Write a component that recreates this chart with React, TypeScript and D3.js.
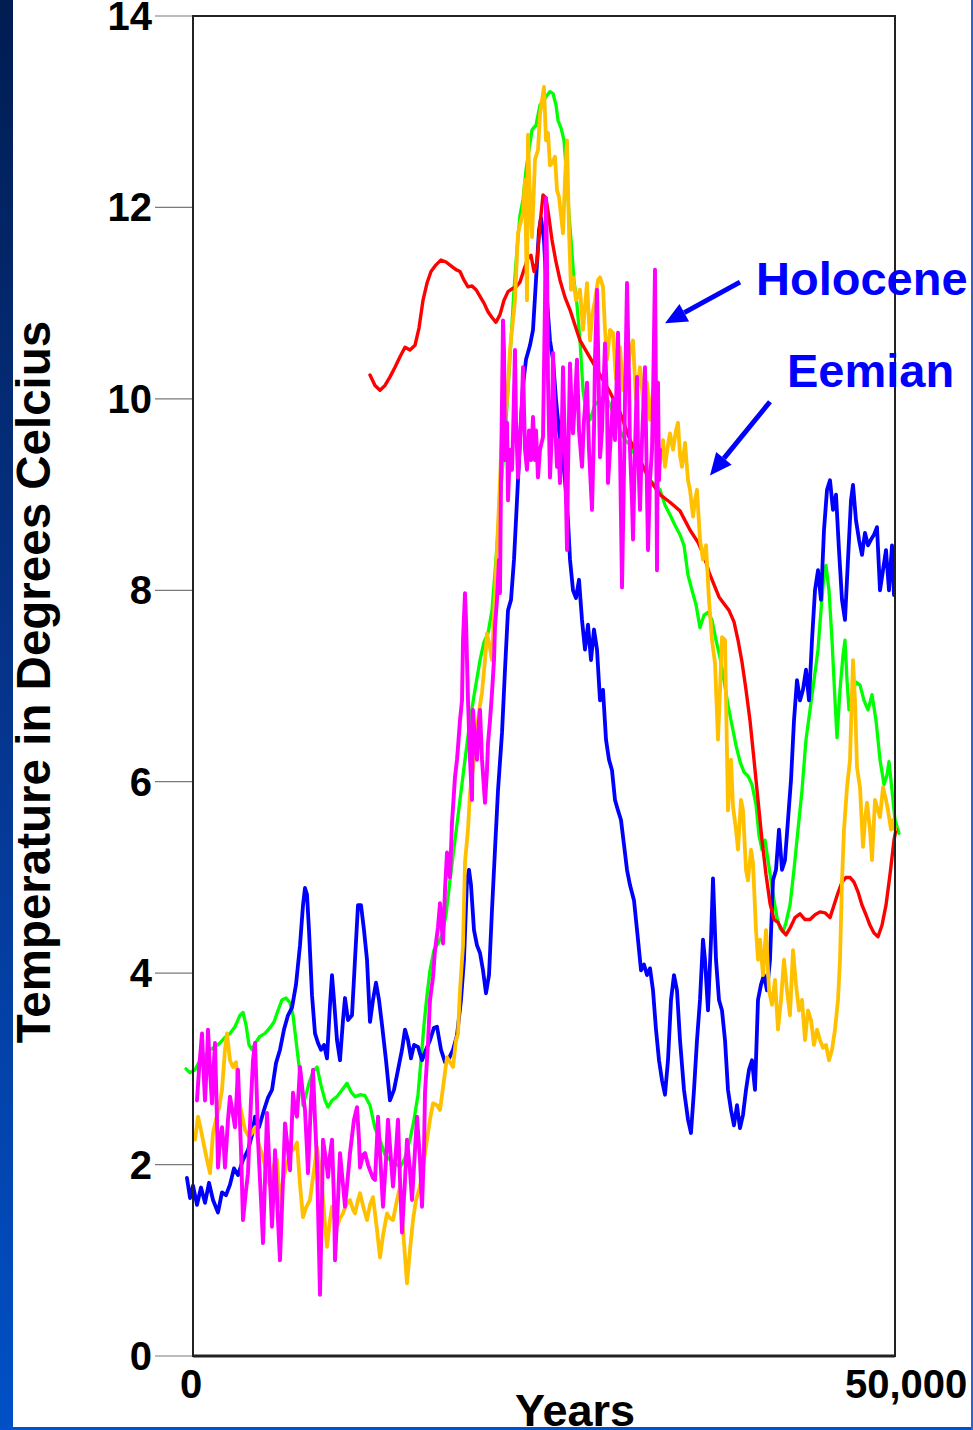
import React from "react";
import * as d3 from "d3";

type Pt = [number, number];

// Temperature records, [years, °C]
const BLUE: Pt[] = [[-430,1.86],[-210,1.65],[0,1.78],[285,1.58],[570,1.76],[855,1.60],[1140,1.81],[1425,1.63],[1781,1.50],[2065,1.71],[2350,1.68],[2635,1.79],[2920,1.96],[3205,1.89],[3561,2.05],[3917,2.15],[4202,2.31],[4416,2.50],[4701,2.39],[5057,2.57],[5342,2.70],[5627,2.78],[5912,3.06],[6197,3.20],[6481,3.41],[6766,3.56],[7051,3.64],[7336,3.88],[7621,4.29],[7835,4.71],[7977,4.89],[8120,4.82],[8262,4.45],[8476,3.77],[8689,3.37],[8903,3.27],[9117,3.20],[9330,3.25],[9544,3.11],[9758,3.67],[9900,3.98],[10043,3.72],[10256,3.30],[10470,3.09],[10684,3.51],[10826,3.74],[11040,3.51],[11325,3.56],[11538,4.14],[11752,4.71],[11966,4.71],[12179,4.45],[12393,4.14],[12607,3.49],[12821,3.72],[13034,3.90],[13248,3.72],[13462,3.46],[13746,3.09],[14031,2.67],[14316,2.78],[14601,2.99],[14886,3.20],[15100,3.41],[15313,3.30],[15527,3.11],[15741,3.25],[16026,3.23],[16311,3.09],[16595,3.20],[16880,3.30],[17165,3.43],[17379,3.44],[17664,3.20],[17949,3.07],[18234,3.11],[18519,3.20],[18803,3.35],[19088,3.72],[19302,4.14],[19516,4.97],[19658,5.08],[19801,4.92],[20014,4.45],[20228,4.29],[20442,4.21],[20655,4.03],[20869,3.79],[21083,3.98],[21296,4.66],[21510,5.29],[21724,5.91],[22009,6.51],[22222,7.17],[22436,7.79],[22650,7.90],[22863,8.32],[23077,8.94],[23291,9.57],[23504,10.14],[23718,10.41],[24003,10.56],[24217,10.72],[24430,11.24],[24644,11.76],[24786,11.89],[25000,11.66],[25214,11.03],[25427,10.61],[25641,10.41],[25855,9.99],[26068,9.67],[26282,9.47],[26496,9.15],[26709,8.73],[26852,8.32],[27066,8.00],[27279,7.92],[27493,8.11],[27707,7.69],[27920,7.38],[28134,7.64],[28348,7.27],[28561,7.59],[28775,7.38],[28989,6.85],[29202,6.96],[29416,6.44],[29630,6.23],[29843,6.12],[30057,5.81],[30271,5.70],[30484,5.60],[30698,5.34],[30912,5.08],[31125,4.92],[31410,4.76],[31695,4.35],[31909,4.03],[32122,4.09],[32336,3.98],[32550,4.05],[32764,3.82],[32977,3.41],[33191,3.09],[33405,2.88],[33618,2.73],[33832,3.09],[34046,3.72],[34259,3.98],[34473,3.82],[34687,3.30],[34971,2.78],[35256,2.47],[35470,2.33],[35684,2.78],[35897,3.30],[36111,3.72],[36325,4.35],[36467,4.14],[36681,3.61],[36895,4.35],[37037,4.99],[37251,4.14],[37464,3.72],[37678,3.61],[37892,3.30],[38105,2.78],[38319,2.57],[38533,2.41],[38746,2.62],[38960,2.38],[39174,2.52],[39387,2.78],[39601,2.99],[39815,3.09],[40028,2.78],[40242,3.72],[40456,3.88],[40669,3.98],[40883,3.82],[41097,4.14],[41311,4.97],[41524,5.08],[41738,5.50],[41952,5.08],[42165,5.18],[42379,5.60],[42593,6.02],[42806,6.64],[43020,7.06],[43234,6.85],[43447,6.96],[43661,7.17],[43875,6.85],[44088,7.48],[44302,8.00],[44516,8.21],[44729,7.90],[44943,8.63],[45157,9.05],[45370,9.15],[45584,8.84],[45798,9.00],[46011,8.42],[46225,7.90],[46439,7.69],[46652,8.32],[46866,8.94],[47009,9.10],[47222,8.73],[47436,8.53],[47650,8.37],[47863,8.60],[48077,8.47],[48291,8.53],[48504,8.58],[48718,8.66],[48932,8.00],[49145,8.21],[49359,8.42],[49573,8.00],[49786,8.47],[49929,7.95]];

const GREEN: Pt[] = [[-500,3.00],[-214,2.96],[142,2.99],[499,3.09],[855,3.14],[1211,3.20],[1567,3.23],[1923,3.27],[2279,3.33],[2635,3.37],[2991,3.44],[3348,3.56],[3561,3.59],[3775,3.46],[3989,3.25],[4202,3.20],[4487,3.28],[4772,3.34],[5128,3.37],[5484,3.43],[5769,3.49],[6054,3.61],[6339,3.72],[6624,3.74],[6909,3.69],[7123,3.56],[7336,3.30],[7621,2.94],[7835,2.62],[8048,2.73],[8262,2.85],[8547,2.97],[8832,3.02],[9117,2.83],[9402,2.67],[9615,2.60],[9900,2.67],[10256,2.71],[10613,2.78],[10969,2.85],[11254,2.76],[11538,2.71],[11895,2.73],[12251,2.72],[12607,2.62],[12963,2.38],[13319,2.26],[13675,2.10],[14031,2.05],[14387,2.02],[14744,1.97],[15100,2.07],[15456,2.26],[15741,2.47],[16026,2.73],[16239,3.09],[16453,3.46],[16667,3.77],[16880,4.03],[17165,4.24],[17450,4.31],[17735,4.40],[18020,4.61],[18305,4.97],[18661,5.39],[19017,5.81],[19373,6.23],[19729,6.64],[20085,6.96],[20442,7.27],[20726,7.46],[21011,7.55],[21296,7.79],[21581,8.32],[21866,8.94],[22151,9.47],[22436,10.09],[22650,10.61],[22863,11.14],[23077,11.56],[23291,11.92],[23504,12.08],[23718,12.39],[23932,12.60],[24145,12.81],[24430,12.86],[24715,13.07],[25000,13.12],[25214,13.17],[25427,13.21],[25641,13.19],[25855,13.07],[25997,12.91],[26211,12.83],[26424,12.70],[26638,12.29],[26781,11.92],[26923,11.66],[27137,11.24],[27350,10.98],[27564,10.61],[27778,10.09],[27991,9.88],[28276,9.78],[28632,9.94],[28989,9.99],[29345,10.04],[29701,9.94],[30057,9.78],[30413,9.67],[30769,9.57],[31125,9.52],[31481,9.41],[31838,9.31],[32194,9.24],[32550,9.15],[32906,9.10],[33262,9.05],[33618,8.89],[33974,8.79],[34330,8.68],[34687,8.58],[34971,8.47],[35256,8.16],[35541,8.00],[35826,7.85],[36111,7.61],[36396,7.74],[36681,7.77],[36966,7.69],[37251,7.48],[37536,7.30],[37820,7.06],[38105,6.80],[38390,6.59],[38675,6.38],[38960,6.21],[39245,6.10],[39530,6.06],[39815,5.97],[40100,5.76],[40313,5.44],[40527,5.29],[40741,5.39],[40954,5.18],[41168,4.97],[41382,4.76],[41595,4.58],[41809,4.47],[42023,4.43],[42236,4.53],[42521,4.71],[42806,5.08],[43091,5.50],[43376,5.91],[43661,6.44],[43946,6.75],[44231,7.06],[44516,7.38],[44729,7.79],[44943,8.16],[45085,8.26],[45299,8.00],[45513,7.48],[45726,6.85],[45869,6.46],[46083,6.96],[46296,7.32],[46439,7.48],[46581,7.06],[46724,6.75],[46937,6.91],[47222,7.04],[47507,7.01],[47792,6.85],[48077,6.75],[48362,6.91],[48647,6.64],[48932,6.23],[49216,5.97],[49430,6.07],[49573,6.21],[49786,5.91],[50000,5.60],[50285,5.46]];

const RED: Pt[] = [[12607,10.25],[12963,10.14],[13319,10.09],[13675,10.14],[14031,10.23],[14387,10.33],[14744,10.44],[15100,10.54],[15456,10.51],[15812,10.56],[16097,10.74],[16382,11.03],[16667,11.21],[16952,11.33],[17308,11.40],[17664,11.45],[18020,11.43],[18376,11.39],[18732,11.35],[19017,11.33],[19302,11.24],[19587,11.17],[19872,11.18],[20157,11.14],[20442,11.07],[20726,11.00],[21011,10.91],[21296,10.85],[21581,10.80],[21866,10.88],[22151,11.03],[22436,11.12],[22721,11.15],[23006,11.17],[23291,11.22],[23575,11.35],[23860,11.47],[24074,11.50],[24288,11.33],[24501,11.43],[24715,11.82],[24929,12.13],[25142,12.10],[25356,11.89],[25570,11.66],[25855,11.43],[26140,11.24],[26496,11.06],[26852,10.93],[27208,10.77],[27564,10.61],[28276,10.43],[28989,10.25],[29701,10.07],[30413,9.86],[31125,9.57],[31838,9.36],[32550,9.15],[33262,9.00],[33974,8.92],[34687,8.83],[35399,8.63],[35969,8.50],[36396,8.36],[36752,8.19],[37108,8.06],[37464,7.93],[37820,7.86],[38177,7.79],[38533,7.67],[38818,7.48],[39102,7.25],[39387,6.96],[39672,6.64],[39957,6.23],[40242,5.81],[40527,5.39],[40812,5.03],[41097,4.73],[41382,4.56],[41666,4.53],[41951,4.45],[42236,4.40],[42521,4.47],[42877,4.58],[43234,4.62],[43590,4.56],[43946,4.56],[44302,4.61],[44658,4.64],[45014,4.63],[45370,4.58],[45655,4.71],[45940,4.84],[46225,4.95],[46510,5.00],[46795,5.00],[47080,4.95],[47365,4.85],[47650,4.71],[47934,4.61],[48219,4.50],[48504,4.42],[48789,4.38],[49074,4.50],[49359,4.71],[49644,5.03],[49929,5.39],[50071,5.50]];

const YELLOW: Pt[] = [[142,2.26],[356,2.50],[570,2.36],[783,2.20],[997,2.05],[1211,1.91],[1425,2.33],[1638,2.47],[1852,2.59],[2065,2.78],[2279,3.20],[2422,3.37],[2635,3.09],[2849,3.02],[3063,3.07],[3276,2.67],[3490,2.52],[3704,2.36],[3989,2.29],[4202,2.33],[4416,2.39],[4701,2.20],[4986,2.08],[5271,1.89],[5484,1.77],[5769,2.00],[5983,2.05],[6197,1.56],[6410,1.84],[6695,2.00],[6909,2.12],[7194,2.17],[7407,2.23],[7621,1.79],[7835,1.45],[8048,1.55],[8333,1.63],[8618,1.94],[8832,2.18],[9046,1.94],[9188,1.77],[9402,1.37],[9544,1.14],[9758,1.42],[9900,1.56],[10114,1.42],[10256,1.35],[10470,1.44],[10684,1.49],[10897,1.58],[11182,1.63],[11396,1.53],[11538,1.49],[11752,1.63],[11895,1.70],[12179,1.53],[12393,1.42],[12607,1.58],[12821,1.66],[13105,1.32],[13319,1.03],[13533,1.26],[13818,1.49],[14031,1.44],[14245,1.42],[14530,1.63],[14744,1.77],[14957,1.32],[15242,0.76],[15456,1.11],[15670,1.42],[15883,1.63],[16168,1.77],[16453,2.05],[16667,2.26],[16880,2.47],[17094,2.64],[17379,2.62],[17593,2.57],[17877,2.88],[18091,3.12],[18305,3.07],[18519,3.02],[18732,3.30],[18875,3.37],[19017,3.82],[19231,4.29],[19373,5.16],[19587,5.50],[19729,5.88],[20014,6.23],[20228,6.57],[20442,6.80],[20584,6.93],[20798,7.27],[20940,7.55],[21154,7.40],[21296,7.27],[21510,7.97],[21652,8.42],[21866,9.15],[22009,9.64],[22222,9.83],[22365,9.99],[22578,10.51],[22792,10.82],[22934,11.03],[23148,11.73],[23291,11.82],[23504,11.94],[23647,12.29],[23789,11.03],[23860,12.76],[24003,12.08],[24145,11.69],[24359,12.50],[24573,12.60],[24715,12.97],[24858,13.12],[25000,13.26],[25142,12.70],[25285,12.78],[25427,12.44],[25570,12.46],[25783,12.53],[25926,12.18],[26068,12.11],[26211,11.92],[26353,11.73],[26496,12.29],[26638,12.70],[26781,11.76],[26923,11.14],[27066,11.27],[27279,11.03],[27564,11.14],[27778,10.72],[28063,11.21],[28276,10.61],[28419,10.86],[28632,11.03],[28846,11.24],[28989,11.27],[29202,11.17],[29345,10.72],[29487,10.41],[29701,10.72],[29915,10.69],[30128,10.20],[30413,10.54],[30627,10.09],[30912,10.23],[31125,10.51],[31339,10.61],[31553,9.99],[31838,10.33],[32122,9.88],[32336,10.17],[32550,9.78],[32764,10.09],[32977,9.57],[33262,9.33],[33476,9.57],[33618,9.29],[33832,9.52],[33974,9.64],[34188,9.47],[34402,9.67],[34544,9.75],[34687,9.41],[34829,9.29],[35043,9.54],[35256,9.15],[35399,9.05],[35613,8.77],[35755,8.94],[35897,9.05],[36111,8.53],[36325,8.32],[36538,8.47],[36752,7.90],[36966,7.48],[37179,7.24],[37393,6.44],[37536,6.96],[37678,7.51],[37892,7.48],[38105,5.70],[38319,6.23],[38462,5.74],[38675,5.50],[38818,5.29],[39031,5.81],[39174,5.70],[39387,5.08],[39530,4.97],[39744,5.29],[39886,5.15],[40100,4.45],[40242,4.14],[40385,4.35],[40598,3.98],[40812,4.45],[41026,3.82],[41239,3.67],[41453,3.93],[41666,3.41],[41880,3.72],[42094,4.14],[42308,3.82],[42521,3.56],[42735,4.24],[42949,3.88],[43162,3.61],[43376,3.72],[43590,3.30],[43803,3.61],[44017,3.51],[44231,3.25],[44444,3.41],[44658,3.30],[44872,3.22],[45085,3.25],[45299,3.09],[45513,3.20],[45726,3.41],[45940,3.72],[46083,4.14],[46225,4.97],[46367,5.50],[46581,5.94],[46795,6.23],[47009,7.27],[47151,6.85],[47293,6.15],[47507,5.94],[47721,5.32],[47863,5.60],[48006,5.78],[48219,5.50],[48362,5.18],[48576,5.81],[48789,5.70],[48932,5.63],[49145,5.94],[49359,5.81],[49502,5.70],[49715,5.50],[49858,5.60],[50000,5.50]];

const MAGENTA: Pt[] = [[285,2.67],[427,2.99],[641,3.37],[783,2.88],[855,2.67],[997,3.09],[1068,3.41],[1211,2.99],[1353,2.64],[1496,3.09],[1567,3.27],[1709,2.47],[1781,1.97],[1923,2.26],[2065,2.39],[2208,2.15],[2279,1.97],[2493,2.47],[2635,2.71],[2849,2.52],[2991,2.39],[3134,2.78],[3205,2.99],[3419,2.15],[3561,1.42],[3775,1.73],[3917,1.91],[4131,2.67],[4274,3.09],[4416,3.27],[4558,2.67],[4630,2.26],[4843,1.63],[4986,1.18],[5128,1.84],[5271,2.54],[5484,1.84],[5627,1.35],[5769,1.84],[5840,2.15],[6054,1.42],[6197,1.00],[6410,1.84],[6553,2.43],[6766,2.15],[6909,1.94],[7051,2.47],[7123,2.75],[7265,2.57],[7407,2.50],[7550,2.83],[7621,3.02],[7835,2.73],[7977,2.57],[8120,2.15],[8191,1.91],[8405,2.67],[8547,2.99],[8689,2.47],[8832,2.02],[8974,1.11],[9046,0.64],[9188,1.63],[9259,2.26],[9473,2.05],[9615,1.87],[9758,2.10],[9900,2.26],[10043,1.63],[10114,1.00],[10328,1.63],[10470,2.12],[10684,1.79],[10826,1.56],[11040,1.89],[11182,2.12],[11467,2.47],[11681,2.60],[11823,2.26],[11895,1.97],[12108,2.10],[12251,2.12],[12464,2.00],[12607,1.94],[12821,1.86],[12963,1.84],[13105,2.26],[13177,2.50],[13390,1.94],[13533,1.56],[13746,2.05],[13889,2.47],[14103,2.05],[14245,1.77],[14459,2.15],[14601,2.47],[14744,1.84],[14886,1.29],[15100,1.84],[15242,2.26],[15456,1.94],[15598,1.63],[15812,2.15],[15954,2.50],[16168,2.05],[16311,1.56],[16453,2.15],[16524,2.75],[16738,3.27],[16880,3.72],[17094,3.96],[17236,4.24],[17450,4.48],[17593,4.73],[17735,4.45],[17806,4.31],[17949,4.87],[18091,5.26],[18234,5.08],[18305,5.00],[18447,5.57],[18661,6.05],[18803,6.23],[18875,6.36],[19017,6.64],[19160,6.85],[19231,7.48],[19373,7.97],[19444,7.69],[19587,6.85],[19729,6.23],[19872,5.81],[19943,6.75],[20085,6.44],[20228,6.23],[20370,6.64],[20442,6.75],[20584,6.23],[20798,5.78],[20940,6.12],[21011,6.40],[21154,6.64],[21296,6.93],[21439,7.27],[21510,7.62],[21652,7.90],[21795,8.32],[21866,7.97],[21937,9.15],[22009,9.99],[22080,10.82],[22151,10.51],[22222,9.36],[22365,9.75],[22436,8.94],[22578,9.47],[22721,9.26],[22792,9.60],[22934,10.51],[23006,9.78],[23148,9.18],[23291,9.57],[23433,9.99],[23504,10.33],[23647,9.47],[23789,9.26],[23932,9.67],[24074,9.36],[24217,9.81],[24359,9.36],[24430,9.67],[24573,9.18],[24715,9.47],[24929,9.60],[25071,11.03],[25142,12.10],[25214,11.45],[25285,10.20],[25427,9.18],[25570,9.67],[25641,10.48],[25783,9.78],[25926,9.29],[25997,9.57],[26140,9.12],[26282,9.78],[26353,10.33],[26496,9.47],[26638,8.42],[26709,9.26],[26852,10.37],[26994,9.78],[27066,9.64],[27208,9.99],[27350,10.41],[27493,9.67],[27707,9.29],[27849,9.78],[28063,10.17],[28205,9.47],[28419,8.84],[28561,9.67],[28632,10.41],[28775,11.14],[28918,9.99],[28989,9.39],[29131,9.67],[29345,10.58],[29487,9.99],[29558,9.12],[29701,9.47],[29915,9.99],[30057,9.57],[30271,10.69],[30413,9.47],[30556,8.03],[30698,9.26],[30769,9.99],[30912,11.21],[31054,10.20],[31125,9.47],[31268,8.94],[31339,8.53],[31481,9.47],[31624,10.23],[31695,9.47],[31838,8.84],[31980,9.57],[32194,10.33],[32265,9.67],[32407,8.42],[32550,9.15],[32693,9.47],[32764,9.99],[32906,11.35],[32977,9.99],[33048,8.21],[33120,10.17],[33191,9.15],[33262,9.47]];

const Y_TICKS = [0, 2, 4, 6, 8, 10, 12, 14];
const X_TICK_LABELS: [number, string][] = [[0, "0"], [50000, "50,000"]];

// Callouts: label text with arrow tail/head in [years, °C]
const CALLOUTS = [
  { label: "Holocene", tx: 756, ty: 295, tail: [38960, 11.22] as Pt, head: [33618, 10.79] as Pt },
  { label: "Eemian", tx: 787, ty: 387, tail: [41097, 9.97] as Pt, head: [36823, 9.20] as Pt },
];

const SERIES = [
  { data: GREEN, color: "#00ff00", width: 3.3 },
  { data: BLUE, color: "#0000ff", width: 3.8 },
  { data: RED, color: "#ff0000", width: 3.4 },
  { data: YELLOW, color: "#ffc000", width: 3.8 },
  { data: MAGENTA, color: "#ff00ff", width: 3.9 },
];

const W = 973;
const H = 1430;
const FONT = "Arial, 'Liberation Sans', Helvetica, sans-serif";

export default function App() {
  const x = d3.scaleLinear().domain([0, 50000]).range([193, 895]);
  const y = d3.scaleLinear().domain([0, 14]).range([1356, 16]);
  const line = d3
    .line<Pt>()
    .x((d) => x(d[0]))
    .y((d) => y(d[1]));

  const arrowHead = (tail: Pt, head: Pt) => {
    const x1 = x(tail[0]), y1 = y(tail[1]);
    const x2 = x(head[0]), y2 = y(head[1]);
    const a = Math.atan2(y2 - y1, x2 - x1);
    const len = 22, half = 10;
    const bx = x2 - len * Math.cos(a), by = y2 - len * Math.sin(a);
    const px = -Math.sin(a) * half, py = Math.cos(a) * half;
    return {
      shaft: { x1, y1, x2: bx, y2: by },
      tri: `${x2},${y2} ${bx + px},${by + py} ${bx - px},${by - py}`,
    };
  };

  return (
    <svg
      width={W}
      height={H}
      style={{ position: "absolute", left: 0, top: 0, background: "#fff" }}
      fontFamily={FONT}
    >
      <defs>
        <linearGradient id="sidebar" x1="0" y1="0" x2="0" y2="1">
          <stop offset="0" stopColor="#001d52" />
          <stop offset="0.5" stopColor="#06358e" />
          <stop offset="1" stopColor="#0050c6" />
        </linearGradient>
      </defs>
      <rect x={0} y={0} width={W} height={H} fill="#ffffff" />

      {/* y ticks */}
      {Y_TICKS.map((t) => (
        <g key={t}>
          <line x1={155} x2={193} y1={y(t)} y2={y(t)} stroke="#7a7a7a" strokeWidth={1.2} />
          <text
            x={152}
            y={y(t) + 14}
            textAnchor="end"
            fontSize={40}
            fontWeight="bold"
            fill="#000"
          >
            {t}
          </text>
        </g>
      ))}

      {/* data */}
      <g fill="none" strokeLinejoin="round" strokeLinecap="round">
        {SERIES.map((s, i) => (
          <path key={i} d={line(s.data) || ""} stroke={s.color} strokeWidth={s.width} />
        ))}
      </g>

      {/* plot frame */}
      <rect x={193} y={16} width={702} height={1340} fill="none" stroke="#222" strokeWidth={2} />
      <line x1={193} x2={895} y1={1356} y2={1356} stroke="#222" strokeWidth={3} />

      {/* x labels */}
      <text x={x(X_TICK_LABELS[0][0]) - 2} y={1398} textAnchor="middle" fontSize={40} fontWeight="bold">
        {X_TICK_LABELS[0][1]}
      </text>
      <text x={845} y={1398} textAnchor="start" fontSize={40} fontWeight="bold">
        {X_TICK_LABELS[1][1]}
      </text>
      <text x={575} y={1426} textAnchor="middle" fontSize={45} fontWeight="bold">
        Years
      </text>

      {/* y title */}
      <text
        transform="translate(50,682) rotate(-90)"
        textAnchor="middle"
        fontSize={47.5}
        fontWeight="bold"
      >
        Temperature in Degrees Celcius
      </text>

      {/* callouts */}
      {CALLOUTS.map((c) => {
        const a = arrowHead(c.tail, c.head);
        return (
          <g key={c.label}>
            <line {...a.shaft} stroke="#0000ff" strokeWidth={5} />
            <polygon points={a.tri} fill="#0000ff" />
            <text x={c.tx} y={c.ty} fontSize={47} fontWeight="bold" fill="#0000ff">
              {c.label}
            </text>
          </g>
        );
      })}

      {/* slide border */}
      <rect x={0} y={0} width={13} height={H} fill="url(#sidebar)" />
      <rect x={0} y={1427} width={W} height={3} fill="#0052cc" />
      <rect x={971} y={0} width={2} height={H} fill="#2a64d2" />
    </svg>
  );
}
